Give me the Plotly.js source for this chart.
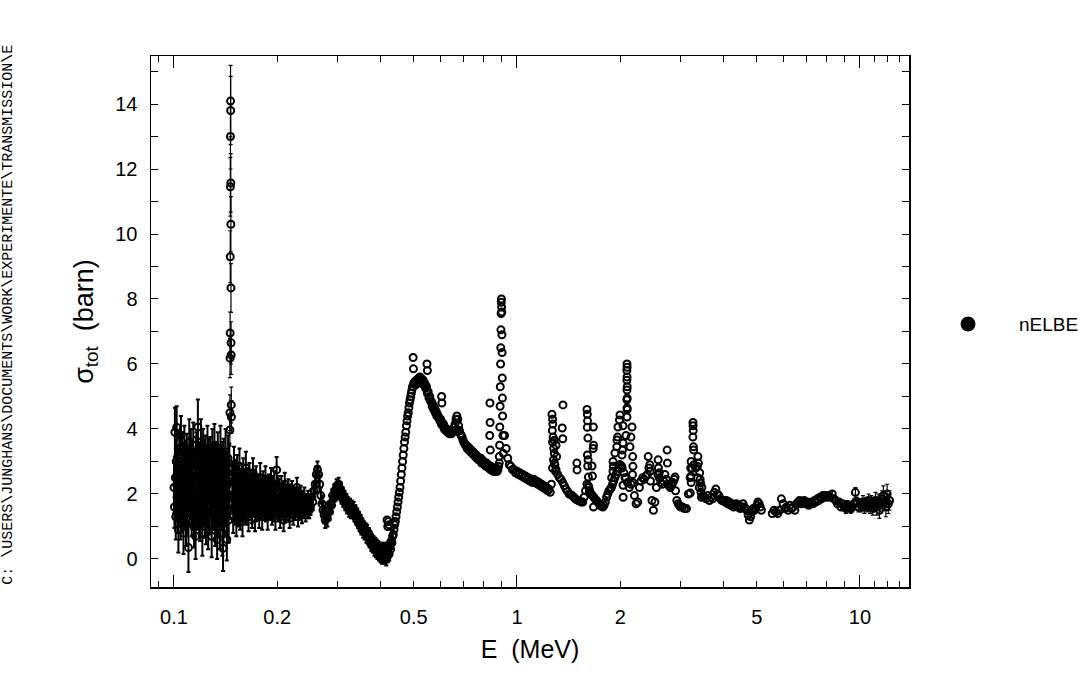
<!DOCTYPE html>
<html>
<head>
<meta charset="utf-8">
<script src="https://cdn.plot.ly/plotly-3.0.1.min.js"></script>
<style>
  html, body { margin: 0; padding: 0; background: #fff; }
  #chart { width: 1091px; height: 681px; }
</style>
</head>
<body>
<div id="chart"></div>
<script>
// total cross section, nELBE transmission run (E in MeV, sigma in barn)

// 0.100 - 0.145 MeV, noisy region with large error bars
var lowE = [0.1000,0.1006,0.1012,0.1018,0.1024,0.1030,0.1036,0.1042,0.1048,0.1054,
  0.1060,0.1066,0.1072,0.1078,0.1084,0.1090,0.1096,0.1102,0.1108,0.1114,
  0.1120,0.1126,0.1132,0.1138,0.1144,0.1150,0.1156,0.1162,0.1168,0.1174,
  0.1180,0.1186,0.1192,0.1198,0.1204,0.1210,0.1216,0.1222,0.1228,0.1234,
  0.1240,0.1246,0.1252,0.1258,0.1264,0.1270,0.1276,0.1282,0.1288,0.1294,
  0.1300,0.1306,0.1312,0.1318,0.1324,0.1330,0.1336,0.1342,0.1348,0.1354,
  0.1360,0.1366,0.1372,0.1378,0.1384,0.1390,0.1396,0.1402,0.1408,0.1414,
  0.1420,0.1426,0.1432,0.1438,0.1444,0.1450];
var lowSig = [2.2,3.9,1.3,4.05,2.7,0.9,3.2,1.8,3.8,1.5,
  2.8,0.8,3.4,2.2,1.1,3.1,2.5,0.35,3.6,2.0,
  3.3,1.4,2.7,3.5,1.0,2.4,0.7,3.2,1.9,4.06,
  1.6,2.9,1.2,3.6,2.3,0.8,3.3,1.7,2.6,3.1,
  1.2,2.0,3.4,0.9,2.8,1.6,3.0,2.2,0.7,3.3,
  1.8,2.5,3.5,1.1,2.9,1.5,0.6,3.2,2.1,2.7,
  1.0,3.4,1.9,2.4,0.8,0.33,3.0,1.4,2.6,3.3,
  1.7,0.6,2.3,3.1,1.2,2.8];
var lowErr = [0.8,0.75,0.7,0.65,0.8,0.7,0.75,0.7,0.6,0.7,
  0.75,0.65,0.7,0.8,0.7,0.75,0.8,0.75,0.7,0.7,
  0.7,0.7,0.75,0.7,0.65,0.7,0.7,0.7,0.75,0.85,
  0.7,0.7,0.65,0.7,0.75,0.7,0.7,0.7,0.8,0.7,
  0.75,0.7,0.7,0.6,0.7,0.65,0.75,0.7,0.65,0.7,
  0.7,0.7,0.65,0.7,0.7,0.7,0.6,0.7,0.7,0.65,
  0.7,0.7,0.65,0.7,0.7,0.7,0.7,0.7,0.7,0.7,
  0.7,0.65,0.7,0.7,0.7,0.75];

// second set of bins in the same energy range (interleaved)
var lowE2 = [0.1003,0.1009,0.1015,0.1021,0.1027,0.1033,0.1039,0.1045,0.1051,0.1057,
  0.1063,0.1069,0.1075,0.1081,0.1087,0.1093,0.1099,0.1105,0.1111,0.1117,
  0.1123,0.1129,0.1135,0.1141,0.1147,0.1153,0.1159,0.1165,0.1171,0.1177,
  0.1183,0.1189,0.1195,0.1201,0.1207,0.1213,0.1219,0.1225,0.1231,0.1237,
  0.1243,0.1249,0.1255,0.1261,0.1267,0.1273,0.1279,0.1285,0.1291,0.1297,
  0.1303,0.1309,0.1315,0.1321,0.1327,0.1333,0.1339,0.1345,0.1351,0.1357,
  0.1363,0.1369,0.1375,0.1381,0.1387,0.1393,0.1399,0.1405,0.1411,0.1417,
  0.1423,0.1429,0.1435,0.1441,0.1447];
var lowSig2 = [1.6,2.5,3.0,1.9,1.4,2.4,2.9,1.2,2.3,3.3,
  1.7,2.6,1.5,3.0,2.0,1.3,2.8,2.2,1.6,2.9,
  2.1,3.0,1.5,2.0,2.7,1.3,3.1,2.4,1.6,2.5,
  2.8,1.4,2.2,2.7,1.5,3.0,2.0,2.6,1.3,2.3,
  2.9,1.6,2.4,3.1,1.4,2.5,1.9,2.8,1.5,2.2,
  2.9,1.5,2.1,2.7,1.8,3.0,2.4,1.6,2.8,1.3,
  2.2,1.6,2.8,1.5,3.0,2.1,1.7,2.5,1.9,2.2,
  2.7,1.5,2.0,1.9,2.5];
var lowErr2 = [0.65,0.6,0.65,0.6,0.6,0.65,0.6,0.6,0.65,0.6,
  0.6,0.65,0.6,0.6,0.65,0.6,0.6,0.65,0.6,0.6,
  0.65,0.6,0.6,0.65,0.6,0.6,0.65,0.6,0.6,0.65,
  0.6,0.6,0.65,0.6,0.6,0.65,0.6,0.6,0.65,0.6,
  0.6,0.65,0.6,0.6,0.65,0.6,0.6,0.65,0.6,0.6,
  0.65,0.6,0.6,0.65,0.6,0.6,0.65,0.6,0.6,0.65,
  0.6,0.6,0.65,0.6,0.6,0.65,0.6,0.6,0.65,0.6,
  0.6,0.65,0.6,0.6,0.65];

// narrow resonance near 0.146 MeV
var spikeE = [0.1455,0.1456,0.1457,0.1458,0.1459,0.1460,0.1461,0.1462,
  0.1463,0.1464,0.1465,0.1466,0.1467,0.1468,0.1469,0.1470];
var spikeSig = [3.97,4.5,6.18,6.95,9.3,11.45,13.0,14.09,13.8,11.57,10.3,8.34,6.65,6.28,4.74,4.37];
var spikeErr = [0.5,0.55,0.6,0.65,0.8,0.9,1.0,1.1,1.05,0.9,0.85,0.75,0.65,0.6,0.55,0.5];

// 0.148 - 0.248 MeV
var midE = [0.1480,0.1488,0.1496,0.1504,0.1512,0.1520,0.1528,0.1536,0.1544,0.1552,
  0.1560,0.1568,0.1576,0.1584,0.1592,0.1600,0.1610,0.1620,0.1630,0.1640,
  0.1650,0.1660,0.1670,0.1680,0.1690,0.1700,0.1712,0.1724,0.1736,0.1748,
  0.1760,0.1772,0.1784,0.1796,0.1808,0.1820,0.1834,0.1848,0.1862,0.1876,
  0.1890,0.1904,0.1918,0.1932,0.1946,0.1960,0.1976,0.1992,0.2008,0.2024,
  0.2040,0.2056,0.2072,0.2088,0.2104,0.2120,0.2138,0.2156,0.2174,0.2192,
  0.2210,0.2228,0.2246,0.2264,0.2282,0.2300,0.2320,0.2340,0.2360,0.2380,
  0.2400,0.2420,0.2440,0.2460,0.2480];
var midSig = [2.5,1.3,2.9,1.8,2.3,1.2,2.7,1.6,2.1,2.85,
  1.4,2.3,1.9,1.15,2.6,1.7,2.2,2.8,1.5,2.1,
  1.3,2.5,1.8,2.2,1.4,2.65,1.9,1.25,2.4,1.7,
  2.2,1.35,2.5,1.8,1.3,2.3,1.6,2.45,1.9,1.3,
  2.2,1.55,2.4,1.4,1.9,2.3,1.25,2.74,1.6,2.1,
  1.3,2.2,1.7,1.2,2.3,1.5,1.9,2.1,1.25,1.8,
  2.1,1.35,1.9,1.6,2.2,1.3,1.75,1.95,1.4,1.7,
  1.9,1.45,1.6,1.85,1.5];
var midErr = [0.5,0.5,0.55,0.5,0.5,0.5,0.5,0.5,0.5,0.55,
  0.5,0.45,0.5,0.45,0.5,0.45,0.5,0.5,0.45,0.45,
  0.45,0.45,0.45,0.4,0.45,0.45,0.4,0.4,0.45,0.4,
  0.4,0.4,0.45,0.4,0.4,0.4,0.4,0.4,0.4,0.4,
  0.4,0.35,0.4,0.35,0.35,0.4,0.35,0.4,0.35,0.35,
  0.35,0.35,0.35,0.35,0.35,0.35,0.3,0.35,0.3,0.3,
  0.3,0.3,0.3,0.3,0.3,0.3,0.3,0.3,0.3,0.3,
  0.3,0.3,0.25,0.25,0.25];

// interleaved bins 0.148 - 0.249 MeV
var midE2 = [0.1484,0.1492,0.1500,0.1508,0.1516,0.1524,0.1532,0.1540,0.1548,0.1556,
  0.1564,0.1572,0.1580,0.1588,0.1596,0.1605,0.1615,0.1625,0.1635,0.1645,
  0.1655,0.1665,0.1675,0.1685,0.1695,0.1706,0.1718,0.1730,0.1742,0.1754,
  0.1766,0.1778,0.1790,0.1802,0.1814,0.1827,0.1841,0.1855,0.1869,0.1883,
  0.1897,0.1911,0.1925,0.1939,0.1953,0.1968,0.1984,0.2000,0.2016,0.2032,
  0.2048,0.2064,0.2080,0.2096,0.2112,0.2129,0.2147,0.2165,0.2183,0.2201,
  0.2219,0.2237,0.2255,0.2273,0.2291,0.2310,0.2330,0.2350,0.2370,0.2390,
  0.2410,0.2430,0.2450,0.2470,0.2490];
var midSig2 = [1.9,2.4,1.6,2.6,1.5,2.0,2.4,1.9,1.45,2.3,
  2.0,1.6,2.5,2.1,1.55,2.35,1.5,1.9,2.4,1.7,
  2.2,1.7,2.3,1.5,2.1,1.8,2.3,1.6,2.0,2.2,
  1.7,2.1,1.55,2.05,2.2,1.7,2.1,1.5,2.15,1.85,
  1.6,2.05,1.75,2.2,1.55,1.8,2.0,1.6,2.2,1.5,
  1.85,1.6,2.05,1.75,1.5,2.0,1.6,1.45,2.0,1.55,
  1.6,1.9,1.5,1.85,1.6,1.9,1.5,1.6,1.8,1.55,
  1.65,1.75,1.5,1.65,1.7];
var midErr2 = [0.45,0.45,0.45,0.45,0.45,0.45,0.45,0.45,0.45,0.45,
  0.45,0.45,0.4,0.4,0.4,0.4,0.4,0.4,0.4,0.4,
  0.4,0.4,0.4,0.4,0.4,0.4,0.4,0.4,0.4,0.4,
  0.35,0.35,0.35,0.35,0.35,0.35,0.35,0.35,0.35,0.35,
  0.35,0.35,0.35,0.35,0.35,0.35,0.35,0.35,0.35,0.35,
  0.3,0.3,0.3,0.3,0.3,0.3,0.3,0.3,0.3,0.3,
  0.3,0.3,0.3,0.3,0.3,0.3,0.3,0.3,0.3,0.3,
  0.25,0.25,0.25,0.25,0.25];

// 0.250 - 0.434 MeV: resonances at 0.26 and 0.30, minimum near 0.42
var dipE = [0.250,0.252,0.254,0.256,0.258,0.260,0.262,0.264,0.266,0.268,
  0.270,0.272,0.274,0.276,0.278,0.280,0.282,0.284,0.286,0.288,
  0.290,0.292,0.294,0.296,0.298,0.300,0.302,0.304,0.306,0.308,
  0.310,0.312,0.314,0.316,0.318,0.320,0.322,0.324,0.326,0.328,
  0.330,0.332,0.334,0.336,0.338,0.340,0.342,0.344,0.346,0.348,
  0.350,0.352,0.354,0.356,0.358,0.360,0.362,0.364,0.366,0.368,
  0.370,0.372,0.374,0.376,0.378,0.380,0.382,0.384,0.386,0.388,
  0.390,0.392,0.394,0.396,0.398,0.400,0.402,0.404,0.406,0.408,
  0.410,0.412,0.414,0.416,0.418,0.420,0.422,0.424,0.426,0.428,
  0.430,0.432,0.434];
var dipSig = [1.6,1.9,1.75,2.1,2.3,2.6,2.75,2.6,2.3,1.95,
  1.7,1.5,1.35,1.2,1.35,1.25,1.5,1.45,1.7,1.65,
  1.95,1.85,2.1,2.0,2.25,2.1,2.3,2.05,2.15,1.9,
  2.0,1.8,1.9,1.7,1.8,1.6,1.7,1.5,1.65,1.45,
  1.6,1.45,1.55,1.35,1.45,1.25,1.35,1.15,1.25,1.05,
  1.15,0.95,1.05,0.85,0.95,0.8,0.9,0.7,0.85,0.65,
  0.75,0.55,0.65,0.45,0.55,0.4,0.5,0.3,0.45,0.25,
  0.4,0.2,0.35,0.15,0.3,0.1,0.3,0.05,0.25,0.1,
  0.3,0.05,0.25,0.0,0.3,0.1,0.35,0.15,0.4,0.3,
  0.55,0.5,0.7];
var dipErr = [0.25,0.25,0.25,0.25,0.25,0.25,0.25,0.25,0.25,0.25,
  0.25,0.25,0.25,0.25,0.25,0.25,0.25,0.25,0.25,0.25,
  0.2,0.2,0.2,0.2,0.2,0.2,0.2,0.2,0.2,0.2,
  0.2,0.2,0.2,0.2,0.2,0.2,0.2,0.2,0.2,0.2,
  0.2,0.2,0.2,0.2,0.2,0.2,0.2,0.2,0.2,0.2,
  0.2,0.2,0.2,0.2,0.2,0.2,0.2,0.2,0.2,0.2,
  0.2,0.2,0.2,0.2,0.2,0.2,0.2,0.2,0.2,0.2,
  0.2,0.2,0.2,0.2,0.2,0.2,0.2,0.2,0.2,0.2,
  0.2,0.2,0.2,0.2,0.2,0.2,0.2,0.2,0.2,0.2,
  0.2,0.2,0.2];

// steep rise 0.436 - 0.500 MeV
var riseE = [0.436,0.438,0.440,0.442,0.444,0.446,0.448,0.450,0.452,0.454,
  0.456,0.458,0.460,0.462,0.464,0.466,0.468,0.470,0.472,0.474,
  0.476,0.478,0.480,0.482,0.484,0.486,0.488,0.490,0.492,0.494,
  0.496,0.498,0.500];
var riseSig = [0.75,0.9,1.05,1.15,1.3,1.45,1.6,1.75,1.9,2.05,
  2.2,2.4,2.6,2.8,3.0,3.2,3.4,3.6,3.75,3.9,
  4.1,4.25,4.4,4.5,4.65,4.8,4.9,5.0,5.1,5.2,
  5.3,5.3,5.4];

// broad maximum 0.503 - 0.620 MeV
var crestE = [0.503,0.506,0.509,0.512,0.515,0.518,0.521,0.524,0.527,0.530,
  0.533,0.536,0.539,0.542,0.545,0.548,0.551,0.554,0.557,0.560,
  0.563,0.566,0.569,0.572,0.575,0.578,0.581,0.584,0.587,0.590,
  0.593,0.596,0.599,0.602,0.605,0.608,0.611,0.614,0.617,0.620];
var crestSig = [5.45,5.35,5.5,5.4,5.55,5.45,5.6,5.45,5.55,5.4,
  5.5,5.35,5.4,5.25,5.3,5.1,5.15,4.95,5.0,4.85,
  4.85,4.7,4.75,4.6,4.65,4.5,4.55,4.4,4.45,4.35,
  4.35,4.25,4.3,4.15,4.2,4.1,4.15,4.0,4.05,3.95];

// 0.624 - 0.888 MeV
var slopeE = [0.624,0.628,0.632,0.636,0.640,0.644,0.648,0.652,0.656,0.660,
  0.664,0.668,0.672,0.676,0.680,0.684,0.688,0.692,0.696,0.700,
  0.704,0.708,0.712,0.716,0.720,0.724,0.728,0.732,0.736,0.740,
  0.744,0.748,0.752,0.756,0.760,0.764,0.768,0.772,0.776,0.780,
  0.784,0.788,0.792,0.796,0.800,0.804,0.808,0.812,0.816,0.820,
  0.824,0.828,0.832,0.836,0.840,0.844,0.848,0.852,0.856,0.860,
  0.864,0.868,0.872,0.876,0.880,0.884,0.888];
var slopeSig = [4.0,3.9,3.95,3.85,3.9,3.85,3.9,3.95,4.05,4.15,
  4.3,4.4,4.3,4.1,3.95,3.85,3.8,3.75,3.65,3.6,
  3.55,3.5,3.5,3.4,3.45,3.35,3.4,3.3,3.35,3.25,
  3.3,3.2,3.25,3.15,3.2,3.1,3.15,3.05,3.1,3.05,
  3.1,2.95,3.05,2.95,3.0,2.9,2.95,2.85,2.95,2.85,
  2.9,2.8,2.85,2.75,2.85,2.75,2.8,2.7,2.8,2.7,
  2.75,2.7,2.8,2.7,2.75,2.85,2.95];

// resonance at 0.90 MeV
var res090E = [0.888,0.890,0.891,0.893,0.894,0.896,0.897,0.898,0.899,0.900,
  0.901,0.902,0.903,0.904,0.905,0.906,0.907,0.908,0.910,0.912];
var res090Sig = [3.15,3.5,4.06,4.7,5.3,6.0,6.5,7.05,7.55,7.9,
  8.0,7.75,7.6,6.9,6.35,5.57,4.95,4.4,3.8,3.25];

// 0.92 - 1.26 MeV
var band1E = [0.92,0.93,0.94,0.95,0.96,0.97,0.98,0.99,1.00,1.01,
  1.02,1.03,1.04,1.05,1.06,1.07,1.08,1.09,1.10,1.11,
  1.12,1.13,1.14,1.15,1.16,1.17,1.18,1.19,1.20,1.21,
  1.22,1.23,1.24,1.25,1.26];
var band1Sig = [3.8,3.4,3.1,2.9,2.85,2.75,2.75,2.65,2.7,2.6,
  2.65,2.55,2.6,2.5,2.55,2.45,2.5,2.4,2.45,2.35,
  2.45,2.35,2.4,2.3,2.35,2.25,2.3,2.2,2.25,2.15,
  2.2,2.1,2.15,2.05,2.3];

// 1.27 - 1.99 MeV
var band2E = [1.270,1.285,1.300,1.315,1.330,1.345,1.360,1.375,1.390,1.405,
  1.420,1.435,1.450,1.465,1.480,1.495,1.510,1.525,1.540,1.555,
  1.570,1.585,1.600,1.615,1.630,1.645,1.660,1.675,1.690,1.705,
  1.720,1.735,1.750,1.765,1.780,1.795,1.810,1.825,1.840,1.855,
  1.870,1.885,1.900,1.915,1.930,1.945,1.960,1.975,1.990];
var band2Sig = [2.8,2.95,2.75,2.6,2.5,2.45,2.35,2.25,2.15,2.08,
  2.0,1.98,1.95,1.9,1.85,1.82,1.8,1.78,1.75,1.75,
  1.9,2.1,2.3,2.25,2.1,2.0,1.95,1.9,1.85,1.8,
  1.75,1.7,1.65,1.62,1.6,1.65,1.75,1.9,2.0,2.1,
  2.15,2.2,2.3,2.4,2.5,2.6,2.7,2.8,2.9];

// 2.0 - 3.0 MeV
var band3E = [2.000,2.025,2.050,2.075,2.100,2.125,2.150,2.175,2.200,2.225,
  2.250,2.275,2.300,2.325,2.350,2.375,2.400,2.425,2.450,2.475,
  2.500,2.525,2.550,2.575,2.600,2.625,2.650,2.675,2.700,2.725,
  2.750,2.775,2.800,2.825,2.850,2.875,2.900,2.925,2.950,2.975,
  3.000];
var band3Sig = [2.9,2.8,2.65,2.5,2.35,2.2,2.3,2.35,1.95,1.7,
  1.75,2.2,2.4,2.5,2.45,2.55,2.6,2.8,2.4,1.8,
  1.5,1.75,2.2,2.6,2.5,2.35,2.3,2.4,2.6,2.45,
  2.3,2.25,2.2,2.3,2.35,2.45,2.1,1.8,1.7,1.65,
  1.6];

// 3.04 - 5.16 MeV
var band4E = [3.04,3.08,3.12,3.16,3.20,3.24,3.28,3.32,3.36,3.40,
  3.44,3.48,3.52,3.56,3.60,3.64,3.68,3.72,3.76,3.80,
  3.84,3.88,3.92,3.96,4.00,4.04,4.08,4.12,4.16,4.20,
  4.24,4.28,4.32,4.36,4.40,4.44,4.48,4.52,4.56,4.60,
  4.64,4.68,4.72,4.76,4.80,4.84,4.88,4.92,4.96,5.00,
  5.04,5.08,5.12,5.16];
var band4Sig = [1.6,1.55,1.55,2.0,2.5,2.8,2.9,2.8,2.5,2.2,
  2.05,1.95,1.9,1.85,1.95,1.8,1.9,1.85,2.05,2.15,
  2.0,1.95,1.85,1.8,1.8,1.75,1.8,1.7,1.75,1.65,
  1.7,1.6,1.65,1.7,1.6,1.65,1.55,1.6,1.7,1.6,
  1.55,1.5,1.35,1.2,1.3,1.45,1.55,1.5,1.55,1.65,
  1.75,1.7,1.6,1.5];

// 5.55 - 8.00 MeV
var band5E = [5.55,5.62,5.69,5.76,5.83,5.90,5.97,6.04,6.11,6.18,
  6.25,6.32,6.39,6.46,6.53,6.60,6.67,6.74,6.81,6.88,
  6.95,7.02,7.09,7.16,7.23,7.30,7.37,7.44,7.51,7.58,
  7.65,7.72,7.79,7.86,7.93,8.00];
var band5Sig = [1.4,1.5,1.45,1.4,1.5,1.85,1.7,1.55,1.6,1.5,
  1.65,1.55,1.6,1.5,1.7,1.75,1.8,1.7,1.75,1.8,
  1.7,1.75,1.65,1.7,1.75,1.7,1.8,1.75,1.85,1.8,
  1.9,1.85,1.95,1.9,1.95,1.9];

// 8.1 - 12.2 MeV, error bars visible again
var farE = [8.1,8.2,8.3,8.4,8.5,8.6,8.7,8.8,8.9,9.0,
  9.1,9.2,9.3,9.4,9.5,9.6,9.7,9.8,9.9,10.0,
  10.1,10.2,10.3,10.4,10.5,10.6,10.7,10.8,10.9,11.0,
  11.1,11.2,11.3,11.4,11.5,11.6,11.7,11.8,11.9,12.0,
  12.1,12.2];
var farSig = [1.95,1.9,2.0,1.85,1.8,1.7,1.75,1.6,1.7,1.6,
  1.55,1.65,1.6,1.55,1.6,1.7,2.05,1.75,1.6,1.7,
  1.65,1.75,1.6,1.7,1.65,1.8,1.6,1.75,1.55,1.7,
  1.8,1.6,1.75,1.5,1.7,1.85,1.95,1.75,1.6,2.0,
  1.7,1.8];
var farErr = [0.1,0.1,0.1,0.1,0.1,0.1,0.1,0.1,0.1,0.1,
  0.15,0.15,0.15,0.15,0.15,0.15,0.15,0.15,0.15,0.15,
  0.2,0.2,0.2,0.2,0.2,0.2,0.2,0.2,0.2,0.2,
  0.25,0.25,0.25,0.25,0.25,0.25,0.3,0.25,0.3,0.3,
  0.3,0.3];

// isolated points on top of the resonances (0.42, 0.5, 0.83, 1.28, 1.6, 2.05, 2.4-2.9, 3.3 MeV)
var peakE = [0.418,0.420,0.422,0.424,
  0.498,0.499,0.5465,0.548,0.603,0.604,
  0.834,0.835,0.833,0.836,
  1.265,1.270,1.272,1.268,1.275,1.270,1.280,1.285,1.278,1.290,1.295,1.285,1.300,1.362,1.355,1.360,1.305,
  1.495,1.497,
  1.600,1.604,1.606,1.603,1.610,1.605,1.612,1.608,1.615,1.620,1.625,1.670,1.672,1.668,1.655,1.660,1.672,
  2.093,2.095,2.091,2.094,2.092,2.096,2.093,2.095,2.092,2.094,2.096,2.093,
  2.165,2.150,2.136,2.175,2.178,2.172,2.180,
  1.997,1.990,1.970,1.965,1.957,1.955,1.930,1.906,1.910,1.905,1.888,
  2.038,2.079,2.038,2.030,2.024,2.020,2.065,2.038,2.040,
  2.413,2.440,2.445,2.580,2.585,2.740,2.745,2.890,2.600,
  3.260,3.262,3.265,3.258,3.270,3.275,3.220,3.210,3.215,3.220,3.200,
  3.370,3.380,3.360,3.410,3.420,3.430,3.460,3.450];
var peakSig = [1.2,1.0,1.15,1.05,
  6.2,5.85,6.0,5.8,5.0,4.8,
  4.8,4.2,3.8,3.35,
  4.45,4.3,4.15,3.95,3.75,3.6,3.4,3.25,3.05,2.9,2.7,3.65,3.5,4.74,4.03,3.7,3.15,
  2.95,2.74,
  4.6,4.45,4.25,4.05,3.72,3.2,3.05,2.86,2.52,2.2,2.05,4.06,3.5,3.4,2.86,2.55,1.6,
  6.0,5.9,5.8,5.6,5.5,5.3,5.2,4.95,4.9,4.65,4.6,4.37,
  4.06,3.75,3.45,3.15,2.85,2.6,2.35,
  4.43,4.28,4.06,3.75,3.66,3.45,3.26,3.0,2.85,2.7,2.5,
  4.1,3.8,3.57,3.35,3.2,2.85,2.5,2.27,1.9,
  3.15,2.9,2.7,3.05,2.8,3.35,2.95,2.52,2.65,
  4.2,4.1,3.95,3.75,3.45,3.35,3.0,2.8,2.55,2.35,2.03,
  3.15,2.95,2.85,2.65,2.45,2.34,2.2,1.9];

var xTickVals = [0.09,0.1,0.2,0.3,0.4,0.5,0.6,0.7,0.8,0.9,1,2,3,4,5,6,7,8,9,10,11,12,13];
var xTickText = ['','0.1','0.2','','','0.5','','','','','1','2','','','5','','','','','10','','',''];
var decadeVals = [0.1,1,10];
var yTickVals = [0,1,2,3,4,5,6,7,8,9,10,11,12,13,14,15];
var yTickText = ['0','','2','','4','','6','','8','','10','','12','','14',''];

function cat() {
  var out = [];
  for (var i = 0; i < arguments.length; i++) out = out.concat(arguments[i]);
  return out;
}

var openCircle = {
  symbol: 'circle-open',
  size: 7,
  color: 'black',
  line: { width: 2, color: 'black' }
};

// dense low-energy part: error bars pile up into a solid band
var denseBars = {
  x: cat(lowE, lowE2, midE, midE2, dipE),
  y: cat(lowSig, lowSig2, midSig, midSig2, dipSig),
  error_y: {
    type: 'data',
    array: cat(lowErr, lowErr2, midErr, midErr2, dipErr),
    color: 'black',
    thickness: 2,
    width: 2
  },
  type: 'scatter',
  mode: 'markers',
  marker: openCircle,
  showlegend: false,
  hoverinfo: 'skip'
};

var thinBars = {
  x: cat(spikeE, farE),
  y: cat(spikeSig, farSig),
  error_y: {
    type: 'data',
    array: cat(spikeErr, farErr),
    color: 'black',
    thickness: 1.2,
    width: 2
  },
  type: 'scatter',
  mode: 'markers',
  marker: openCircle,
  showlegend: false,
  hoverinfo: 'skip'
};

var noBars = {
  x: cat(riseE, crestE, slopeE, res090E, band1E, band2E, band3E, band4E, band5E, peakE),
  y: cat(riseSig, crestSig, slopeSig, res090Sig, band1Sig, band2Sig, band3Sig, band4Sig, band5Sig, peakSig),
  type: 'scatter',
  mode: 'markers',
  marker: openCircle,
  showlegend: false,
  hoverinfo: 'skip'
};

// legend entry only
var legendEntry = {
  x: [null], y: [null],
  type: 'scatter',
  mode: 'markers',
  name: 'nELBE',
  marker: { symbol: 'circle', size: 15, color: 'black' }
};

// carries the long decade ticks
var decadeAxisTrace = {
  x: [null], y: [null],
  xaxis: 'x2',
  type: 'scatter',
  mode: 'markers',
  showlegend: false,
  hoverinfo: 'skip'
};

var xRange = [Math.log10(0.0857), Math.log10(13.9)];

var layout = {
  width: 1091,
  height: 681,
  margin: { l: 151, r: 182, t: 56, b: 94, autoexpand: false },
  paper_bgcolor: 'white',
  plot_bgcolor: 'white',
  font: { family: 'Liberation Sans, Arial, sans-serif', color: 'black', size: 20 },
  showlegend: true,
  legend: {
    x: 1.0106, xanchor: 'left',
    y: 0.495, yanchor: 'middle',
    itemwidth: 92,
    font: { size: 19 },
    bgcolor: 'rgba(0,0,0,0)'
  },
  xaxis: {
    type: 'log',
    range: xRange,
    tickmode: 'array',
    tickvals: xTickVals,
    ticktext: xTickText,
    ticks: 'inside',
    ticklen: 6,
    tickwidth: 1,
    tickcolor: 'black',
    ticklabelstandoff: 11,
    showline: true,
    linecolor: 'black',
    linewidth: 1.5,
    mirror: 'ticks',
    showgrid: false,
    zeroline: false,
    tickfont: { size: 20 },
    title: { text: 'E  (MeV)', font: { size: 25 }, standoff: 14 }
  },
  xaxis2: {
    type: 'log',
    range: xRange,
    overlaying: 'x',
    side: 'bottom',
    anchor: 'y',
    tickmode: 'array',
    tickvals: decadeVals,
    ticks: 'inside',
    ticklen: 12,
    tickwidth: 1,
    tickcolor: 'black',
    showticklabels: false,
    showline: false,
    mirror: 'ticks',
    showgrid: false,
    zeroline: false
  },
  yaxis: {
    range: [-0.862, 15.477],
    tickmode: 'array',
    tickvals: yTickVals,
    ticktext: yTickText,
    ticks: 'inside',
    ticklen: 7,
    tickwidth: 1,
    tickcolor: 'black',
    ticklabelstandoff: 8,
    showline: true,
    linecolor: 'black',
    linewidth: 1.5,
    mirror: 'ticks',
    showgrid: false,
    zeroline: false,
    tickfont: { size: 20 },
    title: { text: 'σ<sub>tot</sub>  (barn)', font: { size: 27 }, standoff: 14 }
  },
  annotations: [{
    text: 'C: \\USERS\\JUNGHANS\\DOCUMENTS\\WORK\\EXPERIMENTE\\TRANSMISSION\\E',
    xref: 'paper', yref: 'paper',
    x: -0.189, y: 0.512,
    xanchor: 'center', yanchor: 'middle',
    textangle: -90,
    showarrow: false,
    font: { family: 'Liberation Mono, DejaVu Sans Mono, monospace', size: 15, color: 'black' }
  }]
};

Plotly.newPlot('chart', [denseBars, thinBars, noBars, decadeAxisTrace, legendEntry], layout, { displayModeBar: false, staticPlot: true });
</script>
</body>
</html>
